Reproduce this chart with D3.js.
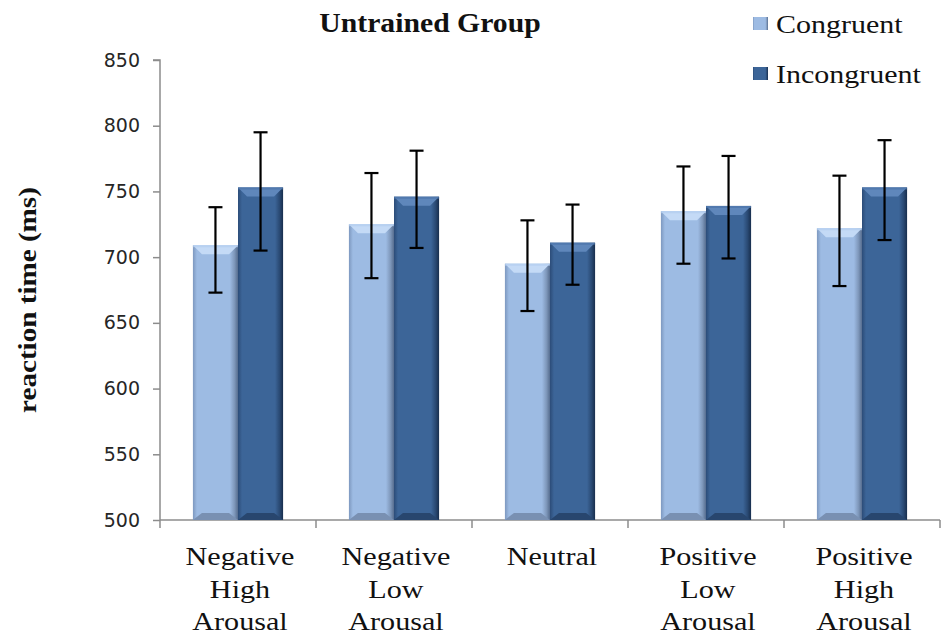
<!DOCTYPE html>
<html><head><meta charset="utf-8">
<script src="https://cdn.jsdelivr.net/npm/d3@7"></script>
<style>body{margin:0;background:#fff}svg{display:block}</style>
</head><body>
<svg id="chart" width="944" height="639"></svg>
<script>
const categories = [["Negative","High","Arousal"],["Negative","Low","Arousal"],["Neutral"],["Positive","Low","Arousal"],["Positive","High","Arousal"]];
const seriesNames = ["Congruent","Incongruent"];
const congruent = [709, 725, 695, 735, 722];
const incongruent = [753, 746, 711, 739, 753];
const congruentErrLow = [673, 684, 659, 695, 678];
const congruentErrHigh = [738, 764, 728, 769, 762];
const incongruentErrLow = [705, 707, 679, 699, 713];
const incongruentErrHigh = [795, 781, 740, 777, 789];
const yTicks = [500, 550, 600, 650, 700, 750, 800, 850];

(function(){
const svg = d3.select("#chart");
const pl = 160, pr = 940, pt = 60, pb = 520;
const x0 = d3.scaleBand().domain(d3.range(categories.length)).range([pl, pr]).paddingInner(0).paddingOuter(0);
const x1 = d3.scaleBand().domain(seriesNames).range([0, x0.bandwidth()]).paddingInner(0).paddingOuter(0.73);
const y = d3.scaleLinear().domain([500, 850]).range([pb, pt]);

const defs = svg.append("defs");
function grad(id, stops){
  const g = defs.append("linearGradient").attr("id", id).attr("x1","0").attr("x2","1").attr("y1","0").attr("y2","0");
  stops.forEach(s => g.append("stop").attr("offset", s[0]).attr("stop-color", s[1]));
}
grad("gC", [[0,"#7d98bf"],[0.09,"#9dbbe3"],[0.82,"#9dbbe3"],[0.92,"#7f98bb"],[1,"#566d8f"]]);
grad("gI", [[0,"#2c4c78"],[0.09,"#3c6598"],[0.82,"#3c6598"],[0.92,"#2a4a74"],[1,"#182e4d"]]);
const colors = {Congruent:{fill:"url(#gC)", top:"#c4daf6", topEdge:"#b3cdef", bottom:"#7990b2"},
                Incongruent:{fill:"url(#gI)", top:"#5f87bb", topEdge:"#4b74a8", bottom:"#28466e"}};

const yAxis = d3.axisLeft(y).tickValues(yTicks).tickSize(7).tickPadding(13).tickFormat(d3.format("d"));
const gy = svg.append("g").attr("transform", `translate(${pl},0)`).call(yAxis);
gy.select(".domain").attr("stroke","#8c8c8c").attr("stroke-width",1.5).attr("d", `M-7,${pt}H0V${pb}`);
gy.selectAll(".tick line").attr("stroke","#8c8c8c").attr("stroke-width",1.5);
gy.selectAll(".tick text").attr("font-family","DejaVu Sans").attr("font-size",19).attr("fill","#262626");

svg.append("line").attr("x1",pl).attr("x2",pr).attr("y1",pb).attr("y2",pb).attr("stroke","#8c8c8c").attr("stroke-width",1.5);
d3.range(categories.length+1).forEach(i=>{
  const xx = i < categories.length ? x0(i) : pr;
  svg.append("line").attr("x1",xx).attr("x2",xx).attr("y1",pb).attr("y2",pb+8).attr("stroke","#8c8c8c").attr("stroke-width",1.5);
});

const data = [];
categories.forEach((c,i)=>{
  data.push({i, s:"Congruent", v:congruent[i], lo:congruentErrLow[i], hi:congruentErrHigh[i]});
  data.push({i, s:"Incongruent", v:incongruent[i], lo:incongruentErrLow[i], hi:incongruentErrHigh[i]});
});
const bw = x1.bandwidth();
const bars = svg.append("g").selectAll("g").data(data).join("g")
  .attr("transform", d=>`translate(${x0(d.i)+x1(d.s)},0)`);
bars.append("rect").attr("x",0).attr("width",bw).attr("y",d=>y(d.v)).attr("height",d=>pb-y(d.v)).attr("fill",d=>colors[d.s].fill);
const bev = 9;
bars.append("path").attr("fill",d=>colors[d.s].top)
  .attr("d", d=>{const t=y(d.v); return `M0,${t}H${bw}L${bw-bev},${t+bev}H${bev}Z`;});
bars.append("path").attr("fill",d=>colors[d.s].topEdge).attr("opacity",0.7)
  .attr("d", d=>{const t=y(d.v); return `M0,${t}H${bw}V${t+2}H0Z`;});
bars.append("path").attr("fill",d=>colors[d.s].bottom)
  .attr("d", d=>`M${bev},${pb-bev+2}H${bw-bev}L${bw},${pb}H0Z`);

const eb = svg.append("g").attr("stroke","#000").attr("stroke-width",2.2);
data.forEach(d=>{
  const cx = x0(d.i)+x1(d.s)+bw/2;
  eb.append("line").attr("x1",cx).attr("x2",cx).attr("y1",y(d.hi)).attr("y2",y(d.lo));
  eb.append("line").attr("x1",cx-7).attr("x2",cx+7).attr("y1",y(d.hi)).attr("y2",y(d.hi));
  eb.append("line").attr("x1",cx-7).attr("x2",cx+7).attr("y1",y(d.lo)).attr("y2",y(d.lo));
});

categories.forEach((lines,i)=>{
  const cx = x0(i)+x0.bandwidth()/2 + 2;
  lines.forEach((t,k)=>{
    svg.append("text").attr("x",0).attr("y",0)
      .attr("transform",`translate(${cx},${565+k*32.5}) scale(1.16,1)`)
      .attr("text-anchor","middle").attr("font-family","Liberation Serif").attr("font-size",26).attr("fill","#111").text(t);
  });
});

svg.append("text").attr("transform","translate(430,32) scale(1.1,1)").attr("text-anchor","middle")
  .attr("font-family","Liberation Serif").attr("font-weight","bold").attr("font-size",27).attr("fill","#111").text("Untrained Group");

svg.append("text").attr("transform","translate(36,300) rotate(-90) scale(1.12,1)").attr("text-anchor","middle")
  .attr("font-family","Liberation Serif").attr("font-weight","bold").attr("font-size",26).attr("fill","#111").text("reaction time (ms)");

const lg = svg.append("g");
seriesNames.forEach((s,k)=>{
  const yy = 17 + k*50;
  lg.append("rect").attr("x",753).attr("y",yy).attr("width",15).attr("height",13).attr("fill",colors[s].fill);
  lg.append("text").attr("transform",`translate(776,${yy+16}) scale(1.2,1)`).attr("font-family","Liberation Serif")
    .attr("font-size",25).attr("fill","#111").text(s);
});
})();
</script>
</body></html>
